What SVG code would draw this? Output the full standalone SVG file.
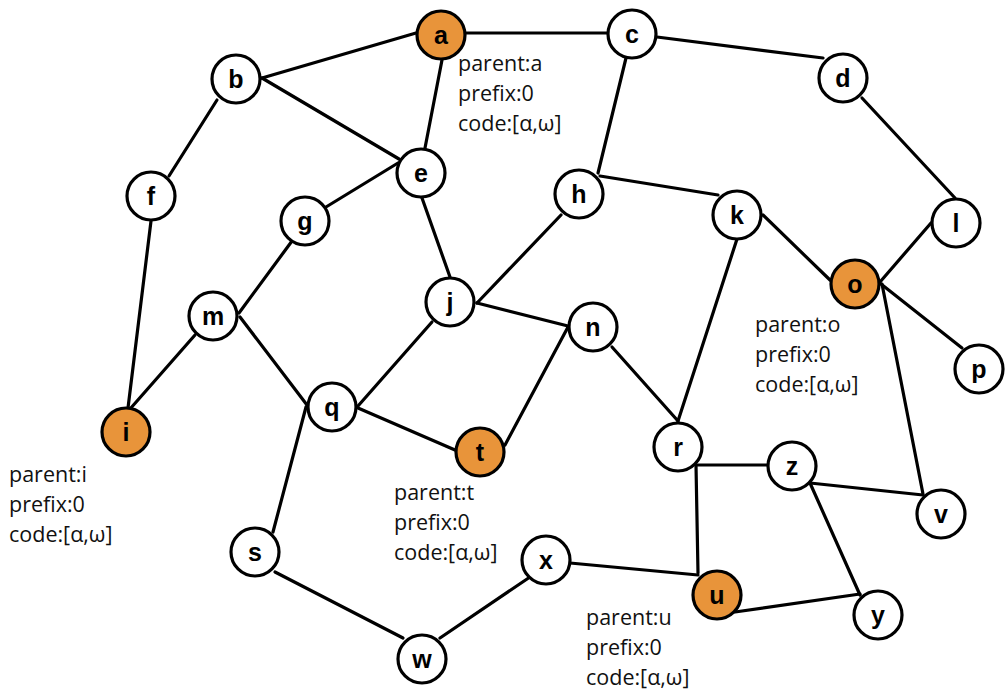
<svg xmlns="http://www.w3.org/2000/svg" width="1005" height="691" viewBox="0 0 1005 691">
  <style>
    .edge { stroke: #000; stroke-width: 3.2; fill: none; stroke-linecap: round; }
    .node circle { fill: #fff; stroke: #000; stroke-width: 3.2; }
    .node.root circle { fill: #E8943A; }
    .node text { font-family: "Liberation Sans", Arial, sans-serif; font-weight: bold; font-size: 25px; text-anchor: middle; fill: #000; }
    .info { font-family: "Open Sans", "Noto Sans", sans-serif; font-size: 21.5px; fill: #111; }
  </style>
  <rect width="1005" height="691" fill="#fff"/>

  <!-- connectors -->
  <g id="edges" class="edge">
    <line x1="465" y1="33" x2="608" y2="33"/>
    <line x1="262" y1="78" x2="416" y2="33"/>
    <line x1="262" y1="78" x2="399" y2="159"/>
    <line x1="442" y1="60" x2="425" y2="148"/>
    <line x1="657" y1="37" x2="823" y2="58"/>
    <line x1="626" y1="58" x2="598" y2="173"/>
    <line x1="862" y1="98" x2="955" y2="198"/>
    <line x1="398" y1="163" x2="326" y2="207"/>
    <line x1="422" y1="198" x2="450" y2="277"/>
    <line x1="217" y1="100" x2="169" y2="176"/>
    <line x1="151" y1="221" x2="128" y2="408"/>
    <line x1="292" y1="241" x2="239" y2="313"/>
    <line x1="195" y1="335" x2="130" y2="409"/>
    <line x1="240" y1="317" x2="307" y2="405"/>
    <line x1="561" y1="215" x2="477" y2="303"/>
    <line x1="600" y1="176" x2="718" y2="195"/>
    <line x1="477" y1="303" x2="568" y2="326"/>
    <line x1="432" y1="322" x2="358" y2="406"/>
    <line x1="358" y1="408" x2="455" y2="450"/>
    <line x1="306" y1="407" x2="273" y2="532"/>
    <line x1="568" y1="327" x2="505" y2="445"/>
    <line x1="612" y1="347" x2="678" y2="421"/>
    <line x1="737" y1="239" x2="678" y2="421"/>
    <line x1="763" y1="215" x2="830" y2="280"/>
    <line x1="931" y1="223" x2="880" y2="282"/>
    <line x1="881" y1="284" x2="962" y2="348"/>
    <line x1="882" y1="284" x2="923" y2="494"/>
    <line x1="696" y1="465" x2="767" y2="465"/>
    <line x1="696" y1="465" x2="698" y2="573"/>
    <line x1="810" y1="483" x2="923" y2="495"/>
    <line x1="810" y1="483" x2="860" y2="595"/>
    <line x1="735" y1="612" x2="860" y2="594"/>
    <line x1="570" y1="563" x2="698" y2="575"/>
    <line x1="530" y1="577" x2="440" y2="638"/>
    <line x1="275" y1="572" x2="403" y2="638"/>
  </g>

  <!-- nodes -->
  <g id="node-a" class="node root"><circle cx="441" cy="35" r="24"/><text x="441" y="44">a</text></g>
  <g id="node-b" class="node"><circle cx="236" cy="79" r="24"/><text x="236" y="88">b</text></g>
  <g id="node-c" class="node"><circle cx="632" cy="34" r="24"/><text x="632" y="43">c</text></g>
  <g id="node-d" class="node"><circle cx="843" cy="78" r="24"/><text x="843" y="87">d</text></g>
  <g id="node-e" class="node"><circle cx="421" cy="173" r="24"/><text x="421" y="182">e</text></g>
  <g id="node-f" class="node"><circle cx="151" cy="196" r="24"/><text x="151" y="205">f</text></g>
  <g id="node-g" class="node"><circle cx="305" cy="221" r="24"/><text x="305" y="230">g</text></g>
  <g id="node-h" class="node"><circle cx="579" cy="194" r="24"/><text x="579" y="203">h</text></g>
  <g id="node-i" class="node root"><circle cx="126" cy="432" r="24"/><text x="126" y="441">i</text></g>
  <g id="node-j" class="node"><circle cx="450" cy="302" r="24"/><text x="450" y="311">j</text></g>
  <g id="node-k" class="node"><circle cx="737" cy="215" r="24"/><text x="737" y="224">k</text></g>
  <g id="node-l" class="node"><circle cx="956" cy="223" r="24"/><text x="956" y="232">l</text></g>
  <g id="node-m" class="node"><circle cx="213" cy="316" r="24"/><text x="213" y="325">m</text></g>
  <g id="node-n" class="node"><circle cx="593" cy="327" r="24"/><text x="593" y="336">n</text></g>
  <g id="node-o" class="node root"><circle cx="855" cy="284" r="24"/><text x="855" y="293">o</text></g>
  <g id="node-p" class="node"><circle cx="979" cy="369" r="24"/><text x="979" y="378">p</text></g>
  <g id="node-q" class="node"><circle cx="332" cy="407" r="24"/><text x="332" y="416">q</text></g>
  <g id="node-r" class="node"><circle cx="678" cy="447" r="24"/><text x="678" y="456">r</text></g>
  <g id="node-s" class="node"><circle cx="255" cy="552" r="24"/><text x="255" y="561">s</text></g>
  <g id="node-t" class="node root"><circle cx="480" cy="452" r="24"/><text x="480" y="461">t</text></g>
  <g id="node-u" class="node root"><circle cx="717" cy="595" r="24"/><text x="717" y="604">u</text></g>
  <g id="node-v" class="node"><circle cx="941" cy="514" r="24"/><text x="941" y="523">v</text></g>
  <g id="node-w" class="node"><circle cx="422" cy="659" r="24"/><text x="422" y="668">w</text></g>
  <g id="node-x" class="node"><circle cx="546" cy="560" r="24"/><text x="546" y="569">x</text></g>
  <g id="node-y" class="node"><circle cx="878" cy="615" r="24"/><text x="878" y="624">y</text></g>
  <g id="node-z" class="node"><circle cx="792" cy="466" r="24"/><text x="792" y="475">z</text></g>

  <!-- per-root annotations -->
  <g id="info-a" class="info">
    <text x="458" y="71">parent:a</text>
    <text x="458" y="101">prefix:0</text>
    <text x="458" y="131">code:[α,ω]</text>
  </g>
  <g id="info-i" class="info">
    <text x="9" y="482">parent:i</text>
    <text x="9" y="512">prefix:0</text>
    <text x="9" y="542">code:[α,ω]</text>
  </g>
  <g id="info-o" class="info">
    <text x="755" y="332">parent:o</text>
    <text x="755" y="362">prefix:0</text>
    <text x="755" y="392">code:[α,ω]</text>
  </g>
  <g id="info-t" class="info">
    <text x="394" y="500">parent:t</text>
    <text x="394" y="530">prefix:0</text>
    <text x="394" y="560">code:[α,ω]</text>
  </g>
  <g id="info-u" class="info">
    <text x="586" y="625">parent:u</text>
    <text x="586" y="655">prefix:0</text>
    <text x="586" y="685">code:[α,ω]</text>
  </g>
</svg>
